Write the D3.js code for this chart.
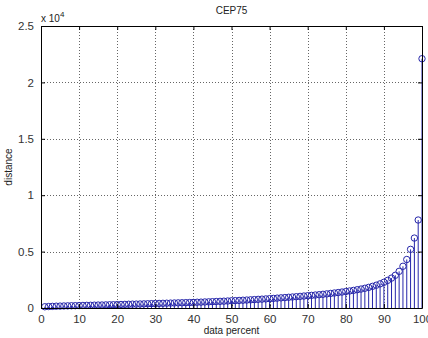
<!doctype html>
<html lang="en">
<head>
<meta charset="UTF-8">
<title>CEP75</title>
<style>
  body { margin: 0; background: #fff; }
  svg { display: block; font-family: "Liberation Sans", Arial, sans-serif; }
</style>
</head>
<body>
<svg></svg>
<script src="https://cdnjs.cloudflare.com/ajax/libs/d3/7.8.5/d3.min.js"></script>
<script>
 // data percent (1..100) and distance
 const percent = d3.range(1, 101);
 const distance = [
   110, 130, 145, 160, 170, 180, 190, 200, 205, 215,
   225, 235, 240, 250, 260, 265, 275, 285, 290, 300,
   310, 320, 330, 340, 345, 355, 365, 375, 385, 395,
   405, 415, 425, 435, 445, 455, 465, 475, 485, 495,
   510, 520, 535, 545, 560, 575, 590, 605, 620, 640,
   655, 670, 690, 705, 725, 745, 765, 785, 805, 830,
   850, 875, 900, 925, 950, 975, 1000, 1030, 1060, 1090,
   1120, 1150, 1180, 1215, 1250, 1290, 1330, 1370, 1415, 1460,
   1510, 1560, 1620, 1680, 1750, 1830, 1920, 2020, 2140, 2280,
   2450, 2650, 2900, 3250, 3700, 4300, 5200, 6200, 7800, 22100
 ];
 const xTicks = [0, 10, 20, 30, 40, 50, 60, 70, 80, 90, 100];
 const yTicks = [0, 0.5, 1, 1.5, 2, 2.5];   // in units of 10^4

 const width = 428, height = 338;
 const mLeft = 41, mRight = 422, mTop = 26, mBottom = 308;
 const stemColor = '#2626aa';

 const svg = d3.select('svg').attr('width', width).attr('height', height);

 const x = d3.scaleLinear().domain([0, 100]).range([mLeft, mRight]);
 const y = d3.scaleLinear().domain([0, 2.5]).range([mBottom, mTop]);

 // grid
 const grid = svg.append('g');
 grid.selectAll('.gx').data(xTicks.slice(1, -1)).enter().append('line')
     .attr('x1', d => Math.round(x(d)) + 0.5).attr('x2', d => Math.round(x(d)) + 0.5)
     .attr('y1', mTop).attr('y2', mBottom)
     .attr('stroke', '#666').attr('stroke-width', 1).attr('stroke-dasharray', '1,2');
 grid.selectAll('.gy').data(yTicks.slice(1, -1)).enter().append('line')
     .attr('y1', d => Math.round(y(d)) + 0.5).attr('y2', d => Math.round(y(d)) + 0.5)
     .attr('x1', mLeft).attr('x2', mRight)
     .attr('stroke', '#666').attr('stroke-width', 1).attr('stroke-dasharray', '1,2');

 // stems
 const pts = percent.map((p, i) => ({p: p, v: distance[i] / 10000}));
 svg.append('g').selectAll('line').data(pts).enter().append('line')
    .attr('x1', d => x(d.p)).attr('x2', d => x(d.p))
    .attr('y1', y(0)).attr('y2', d => y(d.v))
    .attr('stroke', stemColor).attr('stroke-width', 1);
 svg.append('g').selectAll('circle').data(pts).enter().append('circle')
    .attr('cx', d => x(d.p)).attr('cy', d => y(d.v)).attr('r', 3.2)
    .attr('fill', 'none').attr('stroke', stemColor).attr('stroke-width', 1);

 // axes (MATLAB style: inward ticks, box)
 const axB = svg.append('g').attr('transform', `translate(0,${mBottom})`)
    .call(d3.axisBottom(x).tickValues(xTicks).tickSizeInner(-4).tickSizeOuter(0).tickPadding(7));
 const axT = svg.append('g').attr('transform', `translate(0,${mTop})`)
    .call(d3.axisTop(x).tickValues(xTicks).tickSizeInner(-4).tickSizeOuter(0).tickFormat(''));
 const axL = svg.append('g').attr('transform', `translate(${mLeft},0)`)
    .call(d3.axisLeft(y).tickValues(yTicks).tickSizeInner(-4).tickSizeOuter(0).tickPadding(7)
          .tickFormat(d3.format('')));
 const axR = svg.append('g').attr('transform', `translate(${mRight},0)`)
    .call(d3.axisRight(y).tickValues(yTicks).tickSizeInner(-4).tickSizeOuter(0).tickFormat(''));
 [axB, axT, axL, axR].forEach(a => {
   a.select('.domain').attr('stroke', '#000');
   a.selectAll('.tick line').attr('stroke', '#000');
   a.selectAll('text').attr('fill', '#333').style('font-size', '11.5px')
    .style('font-family', '"Liberation Sans", Arial, sans-serif');
 });

 // title and labels
 svg.append('text').attr('x', (mLeft + mRight) / 2).attr('y', 14)
    .attr('text-anchor', 'middle').style('font-size', '10px').attr('fill', '#222').text('CEP75');
 svg.append('text').attr('x', (mLeft + mRight) / 2).attr('y', 334)
    .attr('text-anchor', 'middle').style('font-size', '10px').attr('fill', '#222').text('data percent');
 svg.append('text').attr('transform', `translate(12,${(mTop + mBottom) / 2}) rotate(-90)`)
    .attr('text-anchor', 'middle').style('font-size', '10px').attr('fill', '#222').text('distance');
 const exp = svg.append('text').attr('x', 41).attr('y', 22).style('font-size', '10px').attr('fill', '#222');
 exp.append('tspan').text('x 10');
 exp.append('tspan').attr('dy', -5).style('font-size', '8px').text('4');
</script>
</body>
</html>
